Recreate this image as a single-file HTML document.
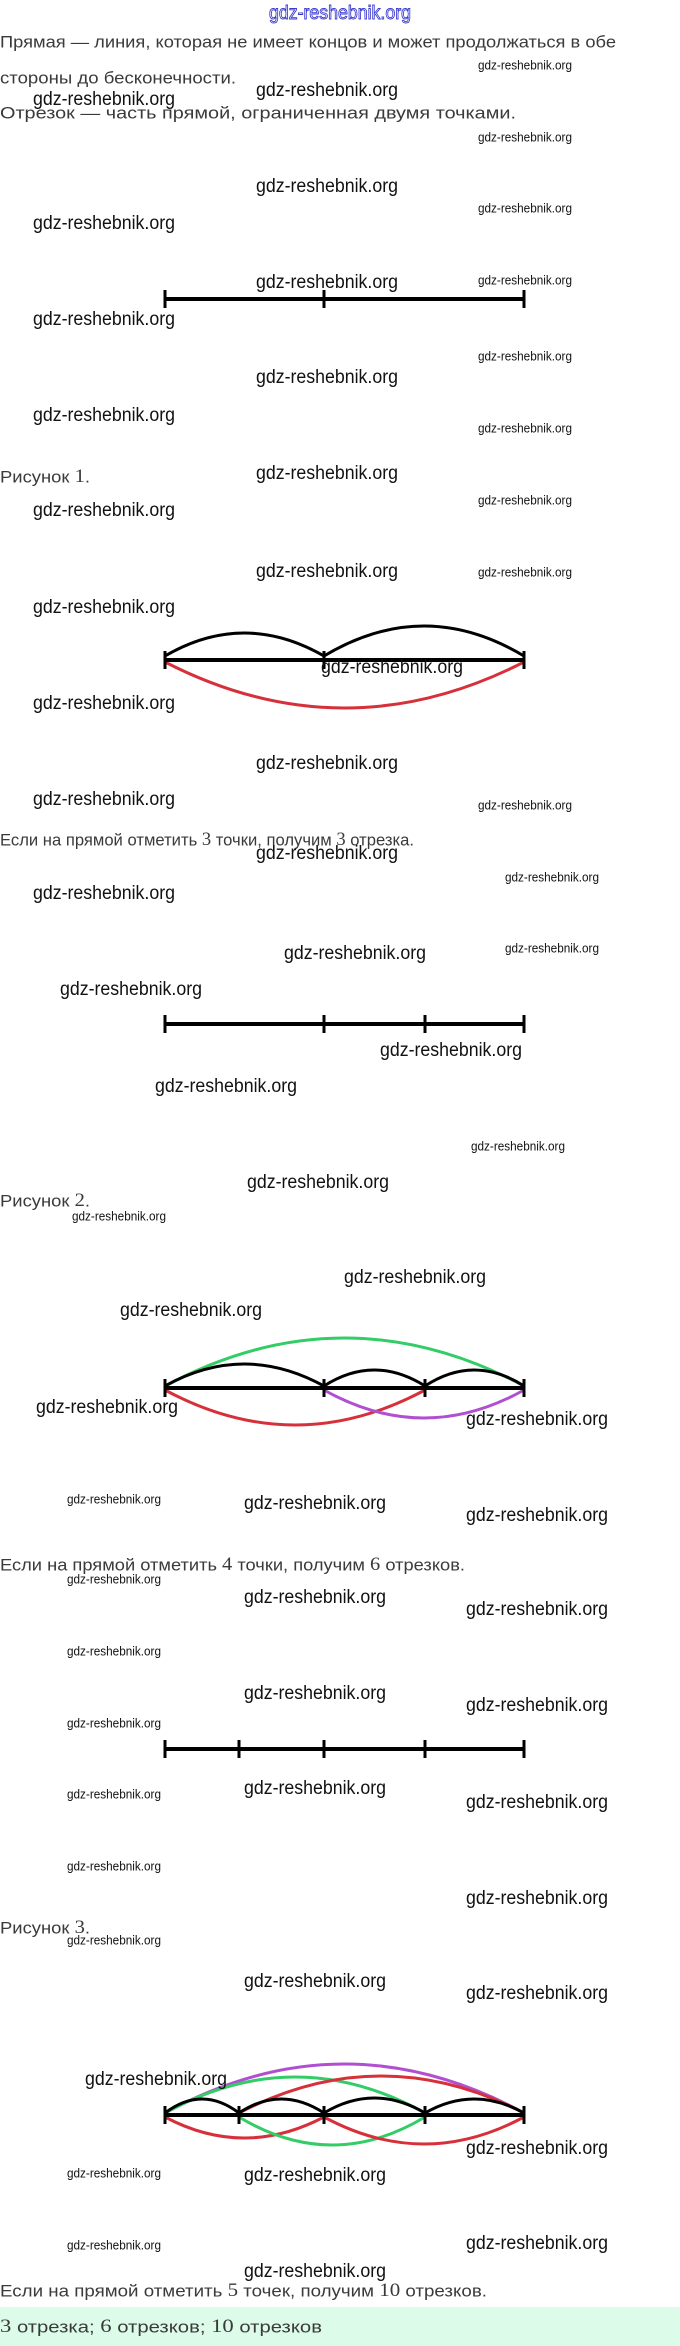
<!DOCTYPE html>
<html><head><meta charset="utf-8"><style>
html,body{margin:0;padding:0;background:#fff;width:680px;height:2346px;overflow:hidden}
svg{display:block}
.t{font-family:"Liberation Sans",sans-serif;font-size:17px;fill:#3a3a3a}
.n{font-family:"Liberation Serif",serif;font-size:19px}
.b{font-family:"Liberation Sans",sans-serif;font-size:19px;fill:#111}
.s{font-family:"Liberation Sans",sans-serif;font-size:13px;fill:#111}
.ln{stroke:#000;stroke-width:4;fill:none}
.tk{stroke:#000;stroke-width:3}
.k{stroke:#000;stroke-width:3;fill:none}
.r{stroke:#d6303a;stroke-width:3;fill:none}
.g{stroke:#33cc66;stroke-width:3;fill:none}
.p{stroke:#b050d0;stroke-width:3;fill:none}
</style></head><body>
<svg width="680" height="2346" viewBox="0 0 680 2346" xmlns="http://www.w3.org/2000/svg">
<rect x="0" y="2307" width="680" height="39" fill="#dcfbe9"/>
<text x="269" y="19" font-family="Liberation Sans,sans-serif" font-size="19" fill="#fff" stroke="#3a3ad0" stroke-width="0.9" textLength="142" lengthAdjust="spacingAndGlyphs">gdz-reshebnik.org</text>

<g class="t" dominant-baseline="middle">
<text x="0" y="43" textLength="616" lengthAdjust="spacingAndGlyphs">Прямая — линия, которая не имеет концов и может продолжаться в обе</text>
<text x="0" y="79" textLength="236" lengthAdjust="spacingAndGlyphs">стороны до бесконечности.</text>
<text x="0" y="114" textLength="516" lengthAdjust="spacingAndGlyphs">Отрезок — часть прямой, ограниченная двумя точками.</text>
<text x="0" y="478" textLength="90" lengthAdjust="spacingAndGlyphs">Рисунок <tspan class="n">1</tspan>.</text>
<text x="0" y="841" textLength="414" lengthAdjust="spacingAndGlyphs">Если на прямой отметить <tspan class="n">3</tspan> точки, получим <tspan class="n">3</tspan> отрезка.</text>
<text x="0" y="1202" textLength="90" lengthAdjust="spacingAndGlyphs">Рисунок <tspan class="n">2</tspan>.</text>
<text x="0" y="1566" textLength="465" lengthAdjust="spacingAndGlyphs">Если на прямой отметить <tspan class="n">4</tspan> точки, получим <tspan class="n">6</tspan> отрезков.</text>
<text x="0" y="1929" textLength="90" lengthAdjust="spacingAndGlyphs">Рисунок <tspan class="n">3</tspan>.</text>
<text x="0" y="2292" textLength="487" lengthAdjust="spacingAndGlyphs">Если на прямой отметить <tspan class="n">5</tspan> точек, получим <tspan class="n">10</tspan> отрезков.</text>
<text x="0" y="2328" textLength="322" lengthAdjust="spacingAndGlyphs"><tspan class="n">3</tspan> отрезка; <tspan class="n">6</tspan> отрезков; <tspan class="n">10</tspan> отрезков</text>
</g>

<!-- Fig 1 -->
<line class="ln" x1="165" y1="299" x2="524" y2="299"/>
<line class="tk" x1="165" y1="290" x2="165" y2="308"/><line class="tk" x1="324" y1="290" x2="324" y2="308"/><line class="tk" x1="524" y1="290" x2="524" y2="308"/>

<!-- Fig 1b -->
<path class="k" d="M165 656 Q244 610 324 656"/>
<path class="k" d="M324 656 Q424 596 524 656"/>
<path class="r" d="M165 662 Q344 754 524 662"/>
<line class="ln" x1="165" y1="660" x2="524" y2="660"/>
<line class="tk" x1="165" y1="651" x2="165" y2="669"/><line class="tk" x1="324" y1="651" x2="324" y2="669"/><line class="tk" x1="524" y1="651" x2="524" y2="669"/>

<!-- Fig 2 -->
<line class="ln" x1="165" y1="1024" x2="524" y2="1024"/>
<line class="tk" x1="165" y1="1015" x2="165" y2="1033"/><line class="tk" x1="324" y1="1015" x2="324" y2="1033"/><line class="tk" x1="425" y1="1015" x2="425" y2="1033"/><line class="tk" x1="524" y1="1015" x2="524" y2="1033"/>

<!-- Fig 2b -->
<path class="g" d="M165 1386 Q344 1290 524 1386"/>
<path class="k" d="M165 1386 Q244 1342 324 1386"/>
<path class="k" d="M324 1386 Q374 1354 425 1386"/>
<path class="k" d="M425 1386 Q474 1354 524 1386"/>
<path class="r" d="M165 1390 Q295 1460 425 1390"/>
<path class="p" d="M324 1390 Q424 1446 524 1390"/>
<line class="ln" x1="165" y1="1388" x2="524" y2="1388"/>
<line class="tk" x1="165" y1="1379" x2="165" y2="1397"/><line class="tk" x1="324" y1="1379" x2="324" y2="1397"/><line class="tk" x1="425" y1="1379" x2="425" y2="1397"/><line class="tk" x1="524" y1="1379" x2="524" y2="1397"/>

<!-- Fig 3 -->
<line class="ln" x1="165" y1="1749" x2="524" y2="1749"/>
<line class="tk" x1="165" y1="1740" x2="165" y2="1758"/><line class="tk" x1="239" y1="1740" x2="239" y2="1758"/><line class="tk" x1="324" y1="1740" x2="324" y2="1758"/><line class="tk" x1="425" y1="1740" x2="425" y2="1758"/><line class="tk" x1="524" y1="1740" x2="524" y2="1758"/>

<!-- Fig 3b -->
<path class="p" d="M165 2113 Q344 2015 524 2113"/>
<path class="g" d="M165 2113 Q295 2041 425 2113"/>
<path class="r" d="M239 2113 Q381 2039 524 2113"/>
<path class="k" d="M165 2113 Q202 2085 239 2113"/>
<path class="k" d="M239 2113 Q281 2085 324 2113"/>
<path class="k" d="M324 2113 Q374 2083 425 2113"/>
<path class="k" d="M425 2113 Q474 2085 524 2113"/>
<path class="r" d="M165 2117 Q244 2159 324 2117"/>
<path class="g" d="M239 2117 Q332 2173 425 2117"/>
<path class="r" d="M324 2117 Q424 2171 524 2117"/>
<line class="ln" x1="165" y1="2115" x2="524" y2="2115"/>
<line class="tk" x1="165" y1="2106" x2="165" y2="2124"/><line class="tk" x1="239" y1="2106" x2="239" y2="2124"/><line class="tk" x1="324" y1="2106" x2="324" y2="2124"/><line class="tk" x1="425" y1="2106" x2="425" y2="2124"/><line class="tk" x1="524" y1="2106" x2="524" y2="2124"/>

<!-- small watermarks -->
<g class="s" dominant-baseline="middle">
<text x="478" y="66" textLength="94" lengthAdjust="spacingAndGlyphs">gdz-reshebnik.org</text>
<text x="478" y="138" textLength="94" lengthAdjust="spacingAndGlyphs">gdz-reshebnik.org</text>
<text x="478" y="209" textLength="94" lengthAdjust="spacingAndGlyphs">gdz-reshebnik.org</text>
<text x="478" y="281" textLength="94" lengthAdjust="spacingAndGlyphs">gdz-reshebnik.org</text>
<text x="478" y="357" textLength="94" lengthAdjust="spacingAndGlyphs">gdz-reshebnik.org</text>
<text x="478" y="429" textLength="94" lengthAdjust="spacingAndGlyphs">gdz-reshebnik.org</text>
<text x="478" y="501" textLength="94" lengthAdjust="spacingAndGlyphs">gdz-reshebnik.org</text>
<text x="478" y="573" textLength="94" lengthAdjust="spacingAndGlyphs">gdz-reshebnik.org</text>
<text x="478" y="806" textLength="94" lengthAdjust="spacingAndGlyphs">gdz-reshebnik.org</text>
<text x="505" y="878" textLength="94" lengthAdjust="spacingAndGlyphs">gdz-reshebnik.org</text>
<text x="505" y="949" textLength="94" lengthAdjust="spacingAndGlyphs">gdz-reshebnik.org</text>
<text x="471" y="1147" textLength="94" lengthAdjust="spacingAndGlyphs">gdz-reshebnik.org</text>
<text x="72" y="1217" textLength="94" lengthAdjust="spacingAndGlyphs">gdz-reshebnik.org</text>
<text x="67" y="1500" textLength="94" lengthAdjust="spacingAndGlyphs">gdz-reshebnik.org</text>
<text x="67" y="1580" textLength="94" lengthAdjust="spacingAndGlyphs">gdz-reshebnik.org</text>
<text x="67" y="1652" textLength="94" lengthAdjust="spacingAndGlyphs">gdz-reshebnik.org</text>
<text x="67" y="1724" textLength="94" lengthAdjust="spacingAndGlyphs">gdz-reshebnik.org</text>
<text x="67" y="1795" textLength="94" lengthAdjust="spacingAndGlyphs">gdz-reshebnik.org</text>
<text x="67" y="1867" textLength="94" lengthAdjust="spacingAndGlyphs">gdz-reshebnik.org</text>
<text x="67" y="1941" textLength="94" lengthAdjust="spacingAndGlyphs">gdz-reshebnik.org</text>
<text x="67" y="2174" textLength="94" lengthAdjust="spacingAndGlyphs">gdz-reshebnik.org</text>
<text x="67" y="2246" textLength="94" lengthAdjust="spacingAndGlyphs">gdz-reshebnik.org</text>
</g>

<!-- big watermarks -->
<g class="b" dominant-baseline="middle">
<text x="256" y="91" textLength="142" lengthAdjust="spacingAndGlyphs">gdz-reshebnik.org</text>
<text x="256" y="187" textLength="142" lengthAdjust="spacingAndGlyphs">gdz-reshebnik.org</text>
<text x="256" y="283" textLength="142" lengthAdjust="spacingAndGlyphs">gdz-reshebnik.org</text>
<text x="256" y="378" textLength="142" lengthAdjust="spacingAndGlyphs">gdz-reshebnik.org</text>
<text x="256" y="474" textLength="142" lengthAdjust="spacingAndGlyphs">gdz-reshebnik.org</text>
<text x="256" y="572" textLength="142" lengthAdjust="spacingAndGlyphs">gdz-reshebnik.org</text>
<text x="256" y="764" textLength="142" lengthAdjust="spacingAndGlyphs">gdz-reshebnik.org</text>
<text x="256" y="854" textLength="142" lengthAdjust="spacingAndGlyphs">gdz-reshebnik.org</text>
<text x="33" y="100" textLength="142" lengthAdjust="spacingAndGlyphs">gdz-reshebnik.org</text>
<text x="33" y="224" textLength="142" lengthAdjust="spacingAndGlyphs">gdz-reshebnik.org</text>
<text x="33" y="320" textLength="142" lengthAdjust="spacingAndGlyphs">gdz-reshebnik.org</text>
<text x="33" y="416" textLength="142" lengthAdjust="spacingAndGlyphs">gdz-reshebnik.org</text>
<text x="33" y="511" textLength="142" lengthAdjust="spacingAndGlyphs">gdz-reshebnik.org</text>
<text x="33" y="608" textLength="142" lengthAdjust="spacingAndGlyphs">gdz-reshebnik.org</text>
<text x="33" y="704" textLength="142" lengthAdjust="spacingAndGlyphs">gdz-reshebnik.org</text>
<text x="33" y="800" textLength="142" lengthAdjust="spacingAndGlyphs">gdz-reshebnik.org</text>
<text x="33" y="894" textLength="142" lengthAdjust="spacingAndGlyphs">gdz-reshebnik.org</text>
<text x="321" y="668" textLength="142" lengthAdjust="spacingAndGlyphs">gdz-reshebnik.org</text>
<text x="284" y="954" textLength="142" lengthAdjust="spacingAndGlyphs">gdz-reshebnik.org</text>
<text x="60" y="990" textLength="142" lengthAdjust="spacingAndGlyphs">gdz-reshebnik.org</text>
<text x="380" y="1051" textLength="142" lengthAdjust="spacingAndGlyphs">gdz-reshebnik.org</text>
<text x="155" y="1087" textLength="142" lengthAdjust="spacingAndGlyphs">gdz-reshebnik.org</text>
<text x="247" y="1183" textLength="142" lengthAdjust="spacingAndGlyphs">gdz-reshebnik.org</text>
<text x="344" y="1278" textLength="142" lengthAdjust="spacingAndGlyphs">gdz-reshebnik.org</text>
<text x="120" y="1311" textLength="142" lengthAdjust="spacingAndGlyphs">gdz-reshebnik.org</text>
<text x="36" y="1408" textLength="142" lengthAdjust="spacingAndGlyphs">gdz-reshebnik.org</text>
<text x="466" y="1420" textLength="142" lengthAdjust="spacingAndGlyphs">gdz-reshebnik.org</text>
<text x="244" y="1504" textLength="142" lengthAdjust="spacingAndGlyphs">gdz-reshebnik.org</text>
<text x="466" y="1516" textLength="142" lengthAdjust="spacingAndGlyphs">gdz-reshebnik.org</text>
<text x="244" y="1598" textLength="142" lengthAdjust="spacingAndGlyphs">gdz-reshebnik.org</text>
<text x="466" y="1610" textLength="142" lengthAdjust="spacingAndGlyphs">gdz-reshebnik.org</text>
<text x="244" y="1694" textLength="142" lengthAdjust="spacingAndGlyphs">gdz-reshebnik.org</text>
<text x="466" y="1706" textLength="142" lengthAdjust="spacingAndGlyphs">gdz-reshebnik.org</text>
<text x="244" y="1789" textLength="142" lengthAdjust="spacingAndGlyphs">gdz-reshebnik.org</text>
<text x="466" y="1803" textLength="142" lengthAdjust="spacingAndGlyphs">gdz-reshebnik.org</text>
<text x="466" y="1899" textLength="142" lengthAdjust="spacingAndGlyphs">gdz-reshebnik.org</text>
<text x="244" y="1982" textLength="142" lengthAdjust="spacingAndGlyphs">gdz-reshebnik.org</text>
<text x="466" y="1994" textLength="142" lengthAdjust="spacingAndGlyphs">gdz-reshebnik.org</text>
<text x="85" y="2080" textLength="142" lengthAdjust="spacingAndGlyphs">gdz-reshebnik.org</text>
<text x="466" y="2149" textLength="142" lengthAdjust="spacingAndGlyphs">gdz-reshebnik.org</text>
<text x="244" y="2176" textLength="142" lengthAdjust="spacingAndGlyphs">gdz-reshebnik.org</text>
<text x="466" y="2244" textLength="142" lengthAdjust="spacingAndGlyphs">gdz-reshebnik.org</text>
<text x="244" y="2272" textLength="142" lengthAdjust="spacingAndGlyphs">gdz-reshebnik.org</text>
</g>
</svg>
</body></html>
